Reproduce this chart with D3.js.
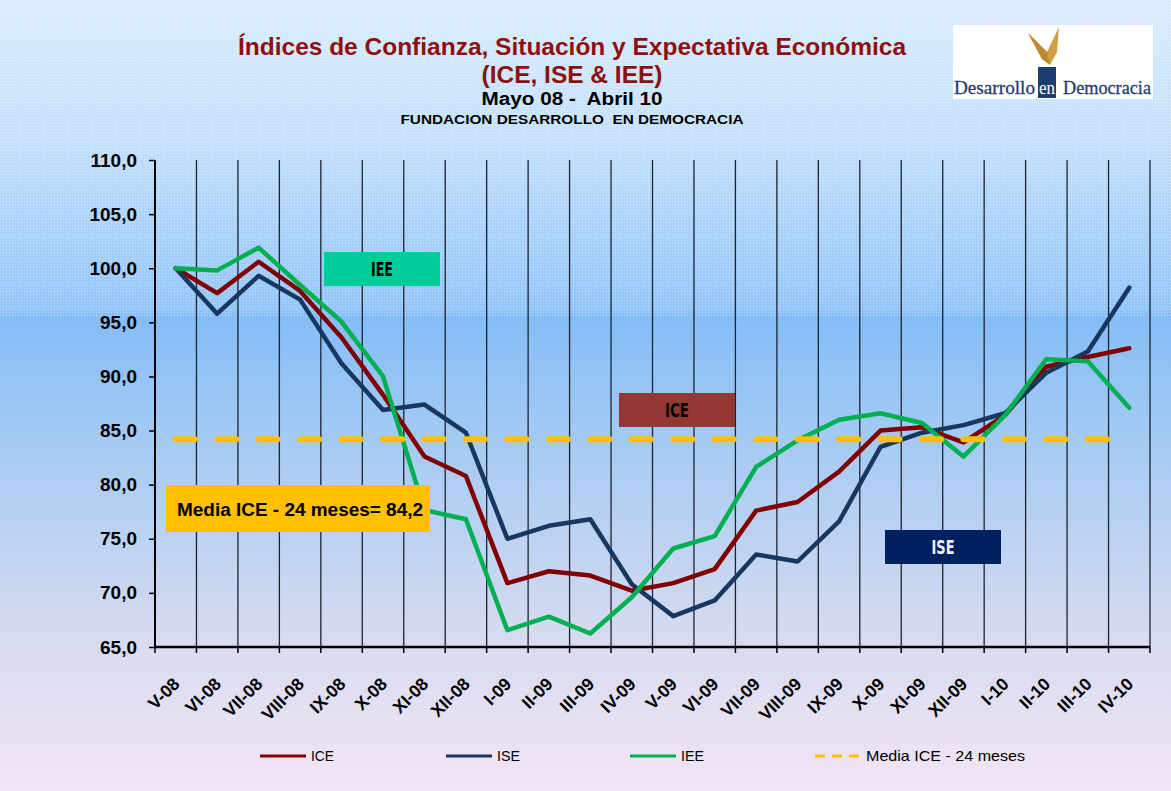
<!DOCTYPE html>
<html>
<head>
<meta charset="utf-8">
<script src="https://cdn.jsdelivr.net/npm/d3@7/dist/d3.min.js"></script>
<style>
  html, body { margin: 0; padding: 0; }
  body { width: 1171px; height: 791px; overflow: hidden; }
  svg { display: block; }
</style>
</head>
<body>
<svg id="chart" width="1171" height="791"></svg>
<script>
// ---- DATA ----
const categories = ["V-08","VI-08","VII-08","VIII-08","IX-08","X-08","XI-08","XII-08",
  "I-09","II-09","III-09","IV-09","V-09","VI-09","VII-09","VIII-09","IX-09","X-09","XI-09","XII-09",
  "I-10","II-10","III-10","IV-10"];
const iceValues = [100.0, 97.7, 100.6, 97.9, 93.6, 88.3, 82.6, 80.8,
  70.9, 72.0, 71.6, 70.2, 70.9, 72.2, 77.6, 78.4, 81.2, 85.0, 85.3, 83.9,
  86.4, 90.9, 91.8, 92.6];
const iseValues = [100.0, 95.8, 99.3, 97.1, 91.2, 86.9, 87.4, 84.8,
  75.0, 76.2, 76.8, 70.8, 67.85, 69.3, 73.55, 72.9, 76.6, 83.5, 84.8, 85.5,
  86.6, 90.35, 92.3, 98.2];
const ieeValues = [100.0, 99.8, 101.9, 98.45, 95.05, 90.0, 77.65, 76.8,
  66.55, 67.8, 66.25, 69.6, 74.1, 75.25, 81.65, 84.1, 86.0, 86.6, 85.7, 82.6,
  86.4, 91.6, 91.4, 87.1];
const mediaICE = 84.2;
const yTickValues = [65, 70, 75, 80, 85, 90, 95, 100, 105, 110];
const seriesNames = ["ICE", "ISE", "IEE", "Media ICE - 24 meses"];
const titleLines = ["Índices de Confianza, Situación y Expectativa Económica", "(ICE, ISE & IEE)",
  "Mayo 08 -  Abril 10", "FUNDACION DESARROLLO  EN DEMOCRACIA"];
const mediaLabel = "Media ICE - 24 meses= 84,2";

// ---- SETUP ----
const W = 1171, H = 791;
const svg = d3.select("#chart");
const defs = svg.append("defs");

const bg = defs.append("linearGradient").attr("id", "bg").attr("x1", 0).attr("y1", 0).attr("x2", 0).attr("y2", 1);
[[0, "#dbedfd"], [0.18, "#c4e0fb"], [0.39, "#94c6f9"], [0.40, "#85bdf8"], [0.55, "#a3caf3"],
 [0.82, "#d9dcf0"], [1, "#f3e5f5"]].forEach(([o, c]) => bg.append("stop").attr("offset", o).attr("stop-color", c));

const pat = defs.append("pattern").attr("id", "dots").attr("width", 3).attr("height", 3).attr("patternUnits", "userSpaceOnUse");
pat.append("rect").attr("x", 0).attr("y", 0).attr("width", 1).attr("height", 1).attr("fill", "#ffffff");

svg.append("rect").attr("width", W).attr("height", H).attr("fill", "url(#bg)");
svg.append("rect").attr("x", 0).attr("y", 0).attr("width", W).attr("height", 316).attr("fill", "url(#dots)").attr("opacity", 0.4);

const x = d3.scaleBand().domain(categories).range([155, 1150]).paddingInner(0).paddingOuter(0);
const y = d3.scaleLinear().domain([65, 110]).range([647, 160]);
const cx = d => x(d) + x.bandwidth() / 2;

// ---- TITLE ----
const tFill = "#8e0f0f";
const titleSpec = [
  {t: titleLines[0], yb: 55, size: 24, w: 668, fill: tFill},
  {t: titleLines[1], yb: 83, size: 23, w: 181, fill: tFill},
  {t: titleLines[2], yb: 105, size: 18, w: 181, fill: "#000"},
  {t: titleLines[3], yb: 124, size: 13, w: 343, fill: "#000"}
];
svg.selectAll("text.title").data(titleSpec).enter().append("text")
  .attr("class", "title")
  .attr("x", 572).attr("y", d => d.yb)
  .attr("text-anchor", "middle")
  .style("white-space", "pre")
  .attr("font-family", "'Liberation Sans', Arial, sans-serif")
  .attr("font-weight", "bold")
  .attr("font-size", d => d.size)
  .attr("fill", d => d.fill)
  .attr("textLength", d => d.w)
  .attr("lengthAdjust", "spacingAndGlyphs")
  .text(d => d.t);

// ---- LOGO ----
const logo = svg.append("g");
logo.append("rect").attr("x", 953).attr("y", 25).attr("width", 200).attr("height", 74).attr("fill", "#ffffff");
logo.append("polygon").attr("points", "1028,33 1047,52 1059,27 1057,52 1050,65 1042,59").attr("fill", "#d1a043");
logo.append("polygon").attr("points", "1028,33 1047,52 1050,65 1042,59").attr("fill", "#c08a2c");
logo.append("rect").attr("x", 1038).attr("y", 67).attr("width", 18).attr("height", 31).attr("fill", "#1b3d72");
const serif = "'Liberation Serif', 'Times New Roman', serif";
logo.append("text").attr("x", 954).attr("y", 94).attr("font-family", serif)
  .attr("font-size", 19).attr("fill", "#1f3d6e").attr("stroke", "#1f3d6e").attr("stroke-width", 0.3)
  .attr("textLength", 81).attr("lengthAdjust", "spacingAndGlyphs").text("Desarrollo");
logo.append("text").attr("x", 1039).attr("y", 94).attr("font-family", serif)
  .attr("font-size", 19).attr("fill", "#ffffff").attr("textLength", 16).attr("lengthAdjust", "spacingAndGlyphs").text("en");
logo.append("text").attr("x", 1063).attr("y", 94).attr("font-family", serif)
  .attr("font-size", 19).attr("fill", "#1f3d6e").attr("stroke", "#1f3d6e").attr("stroke-width", 0.3)
  .attr("textLength", 88).attr("lengthAdjust", "spacingAndGlyphs").text("Democracia");

// ---- GRID (vertical lines at category boundaries) ----
const boundaries = categories.map(c => x(c) + x.bandwidth());
svg.append("g").selectAll("line").data(boundaries).enter().append("line")
  .attr("x1", d => d).attr("x2", d => d).attr("y1", y(110)).attr("y2", y(65))
  .attr("stroke", "#1c2430").attr("stroke-width", 1.3);

// ---- AXES ----
const yAxis = svg.append("g").attr("transform", "translate(155,0)")
  .call(d3.axisLeft(y).tickValues(yTickValues).tickSize(6).tickPadding(12)
    .tickFormat(d => d3.format(".1f")(d).replace(".", ",")));
yAxis.select(".domain").attr("stroke", "#000").attr("stroke-width", 2).attr("d", `M0,${y(110)}V${y(65)}`);
yAxis.selectAll(".tick line").attr("stroke", "#000").attr("stroke-width", 1.5);
yAxis.selectAll(".tick text").attr("font-family", "'Liberation Sans', Arial, sans-serif")
  .attr("font-weight", "bold").attr("font-size", 19).attr("fill", "#000");

const xAxis = svg.append("g").attr("transform", `translate(0,${y(65)})`)
  .call(d3.axisBottom(x).tickSize(0).tickPadding(0));
xAxis.select(".domain").attr("stroke", "#000").attr("stroke-width", 2.5).attr("d", `M155,0H1150`);
xAxis.selectAll(".tick text")
  .attr("font-family", "'Liberation Sans', Arial, sans-serif")
  .attr("font-weight", "bold").attr("font-size", 17.5).attr("fill", "#000")
  .attr("text-anchor", "end").attr("dy", 0).attr("y", 0)
  .attr("transform", "translate(5,38) rotate(-45)");
// boundary tick marks
xAxis.append("g").selectAll("line").data([155].concat(boundaries)).enter().append("line")
  .attr("x1", d => d).attr("x2", d => d).attr("y1", 0).attr("y2", 6)
  .attr("stroke", "#000").attr("stroke-width", 1.5);

// ---- SERIES ----
const line = d3.line().x((d, i) => cx(categories[i])).y(d => y(d));
const series = [
  {name: seriesNames[0], values: iceValues, color: "#800000"},
  {name: seriesNames[1], values: iseValues, color: "#17375e"},
  {name: seriesNames[2], values: ieeValues, color: "#00b050"}
];
svg.append("g").selectAll("path").data(series).enter().append("path")
  .attr("d", d => line(d.values))
  .attr("fill", "none").attr("stroke", d => d.color).attr("stroke-width", 4.5)
  .attr("stroke-linejoin", "round").attr("stroke-linecap", "round");

// media line
const mediaValues = categories.map(() => mediaICE);
svg.append("path").attr("d", line(mediaValues))
  .attr("fill", "none").attr("stroke", "#ffc000").attr("stroke-width", 6)
  .attr("stroke-linecap", "round").attr("stroke-dasharray", "19,22.46");

// ---- LABEL BOXES ----
const boxes = [
  {x: 324, y: 252, w: 116, h: 34, fill: "#00cc99", text: "IEE", tc: "#000", tw: 22},
  {x: 619, y: 393, w: 116, h: 34, fill: "#953735", text: "ICE", tc: "#000", tw: 24},
  {x: 885, y: 530, w: 116, h: 34, fill: "#002060", text: "ISE", tc: "#eef0f6", tw: 23}
];
const bg2 = svg.append("g");
boxes.forEach(b => {
  bg2.append("rect").attr("x", b.x).attr("y", b.y).attr("width", b.w).attr("height", b.h).attr("fill", b.fill);
  bg2.append("text").attr("x", b.x + b.w / 2).attr("y", b.y + b.h / 2 + 7).attr("text-anchor", "middle")
    .attr("font-family", "'DejaVu Sans Condensed', 'Liberation Sans Narrow', sans-serif")
    .attr("font-weight", "bold").attr("font-size", 19).attr("fill", b.tc)
    .attr("textLength", b.tw).attr("lengthAdjust", "spacingAndGlyphs").text(b.text);
});
bg2.append("rect").attr("x", 166).attr("y", 485).attr("width", 264).attr("height", 47).attr("fill", "#ffc000");
bg2.append("text").attr("x", 177).attr("y", 516).attr("font-family", "'Liberation Sans', Arial, sans-serif")
  .attr("font-weight", "bold").attr("font-size", 18).attr("fill", "#000")
  .attr("textLength", 246).attr("lengthAdjust", "spacingAndGlyphs").text(mediaLabel);

// ---- LEGEND ----
const legend = [
  {name: seriesNames[0], color: "#800000", x: 260, dash: null, tw: 23},
  {name: seriesNames[1], color: "#17375e", x: 446, dash: null, tw: 23},
  {name: seriesNames[2], color: "#00b050", x: 630, dash: null, tw: 23},
  {name: seriesNames[3], color: "#ffc000", x: 815, dash: "10,7", tw: 159}
];
const lg = svg.append("g");
legend.forEach(l => {
  lg.append("line").attr("x1", l.x).attr("x2", l.x + 46).attr("y1", 756).attr("y2", 756)
    .attr("stroke", l.color).attr("stroke-width", 3).attr("stroke-dasharray", l.dash);
  lg.append("text").attr("x", l.x + 51).attr("y", 761).attr("font-family", "'Liberation Sans', Arial, sans-serif")
    .attr("font-size", 15).attr("fill", "#000").attr("textLength", l.tw).attr("lengthAdjust", "spacingAndGlyphs").text(l.name);
});
</script>
</body>
</html>
